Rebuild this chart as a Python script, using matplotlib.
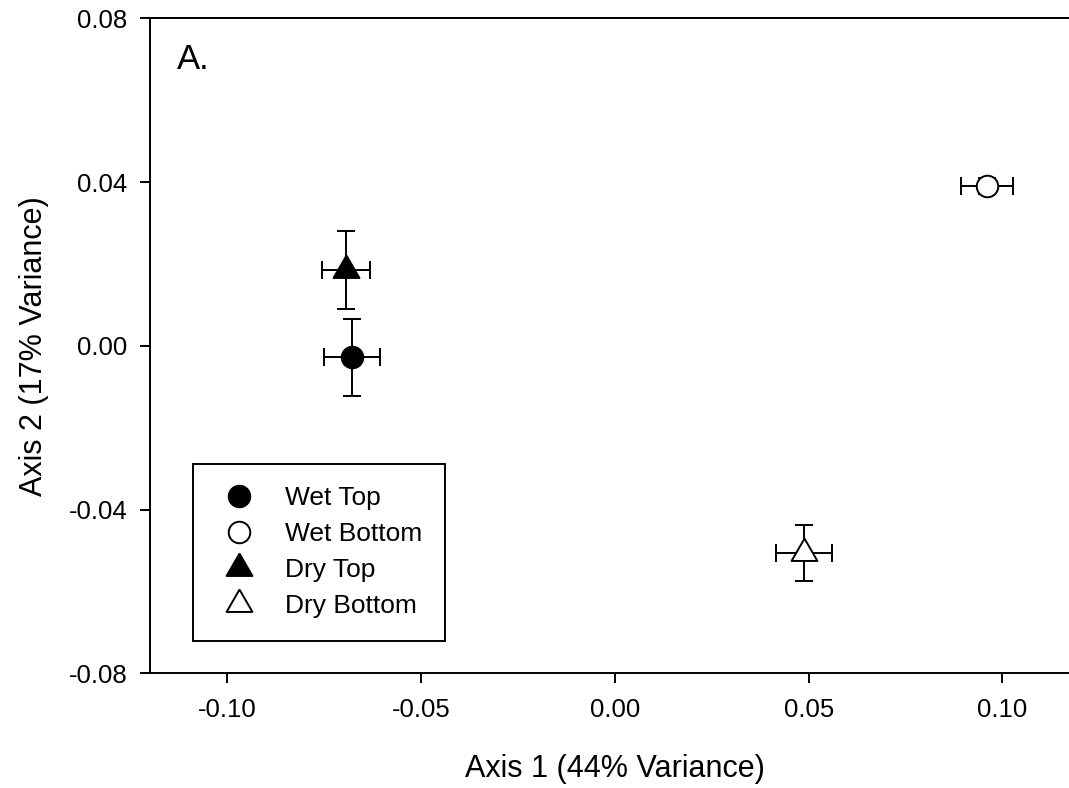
import matplotlib
matplotlib.use('Agg')
import matplotlib.pyplot as plt
from matplotlib.lines import Line2D

plt.rcParams['font.family'] = ['Liberation Sans', 'DejaVu Sans']

# group means on the two ordination axes, with standard errors
groups = ["Wet Top", "Wet Bottom", "Dry Top", "Dry Bottom"]
axis1 = [-0.0678, 0.0960, -0.0694, 0.0488]
axis2 = [-0.0028, 0.0391, 0.0185, -0.0507]
axis1_err = [0.0073, 0.0067, 0.0062, 0.0073]
axis2_err = [0.0094, 0.0020, 0.0095, 0.0068]

x_ticks = [-0.10, -0.05, 0.00, 0.05, 0.10]
y_ticks = [-0.08, -0.04, 0.00, 0.04, 0.08]

# equilateral triangle marker centred on its centroid
tri = [(0, 1), (-0.866, -0.5), (0.866, -0.5), (0, 1)]
markers = ['o', 'o', tri, tri]
faces = ['black', 'white', 'black', 'white']
sizes = [15.5, 15.5, 21.5, 21.5]

fig = plt.figure(figsize=(10.69, 7.88), dpi=100)
ax = fig.add_axes([0.1399, 0.1456, 0.8704, 0.8312])

for i in range(len(groups)):
    ax.errorbar(axis1[i], axis2[i], xerr=axis1_err[i], yerr=axis2_err[i],
                fmt='none', ecolor='black', elinewidth=1.4, capsize=6.6,
                capthick=1.4, zorder=2)
    ax.plot(axis1[i], axis2[i], linestyle='none', marker=markers[i],
            markersize=sizes[i], markerfacecolor=faces[i],
            markeredgecolor='black', markeredgewidth=1.4, zorder=3)

ax.set_xlim(-0.12, 0.12)
ax.set_ylim(-0.08, 0.08)
ax.set_xticks(x_ticks)
ax.set_yticks(y_ticks)
ax.set_xticklabels([f"{v:.2f}" for v in x_ticks])
ax.set_yticklabels([f"{v:.2f}" for v in y_ticks])
ax.tick_params(direction='out', length=7, width=1.4, labelsize=18.5, pad=9)
ax.tick_params(axis='x', pad=11)
ax.spines['right'].set_visible(False)
for s in ['left', 'bottom', 'top']:
    ax.spines[s].set_linewidth(1.4)

ax.set_xlabel("Axis 1 (44% Variance)", fontsize=22, labelpad=23)
ax.set_ylabel("Axis 2 (17% Variance)", fontsize=22, labelpad=14)

ax.text(0.029, 0.963, "A.", transform=ax.transAxes, fontsize=25,
        ha='left', va='top')

handles = []
for i in range(len(groups)):
    handles.append(Line2D([], [], linestyle='none', marker=markers[i],
                          markersize=sizes[i], markerfacecolor=faces[i],
                          markeredgecolor='black', markeredgewidth=1.4))
leg = ax.legend(handles, groups, loc='lower left',
                bbox_to_anchor=(0.0464, 0.0498), borderaxespad=0,
                fontsize=19, frameon=True, fancybox=False, edgecolor='black',
                framealpha=1, handlelength=1.86, handletextpad=0.8,
                borderpad=0.84, labelspacing=0.46)
leg.get_frame().set_linewidth(1.4)

fig.savefig("out.png", dpi=100)
